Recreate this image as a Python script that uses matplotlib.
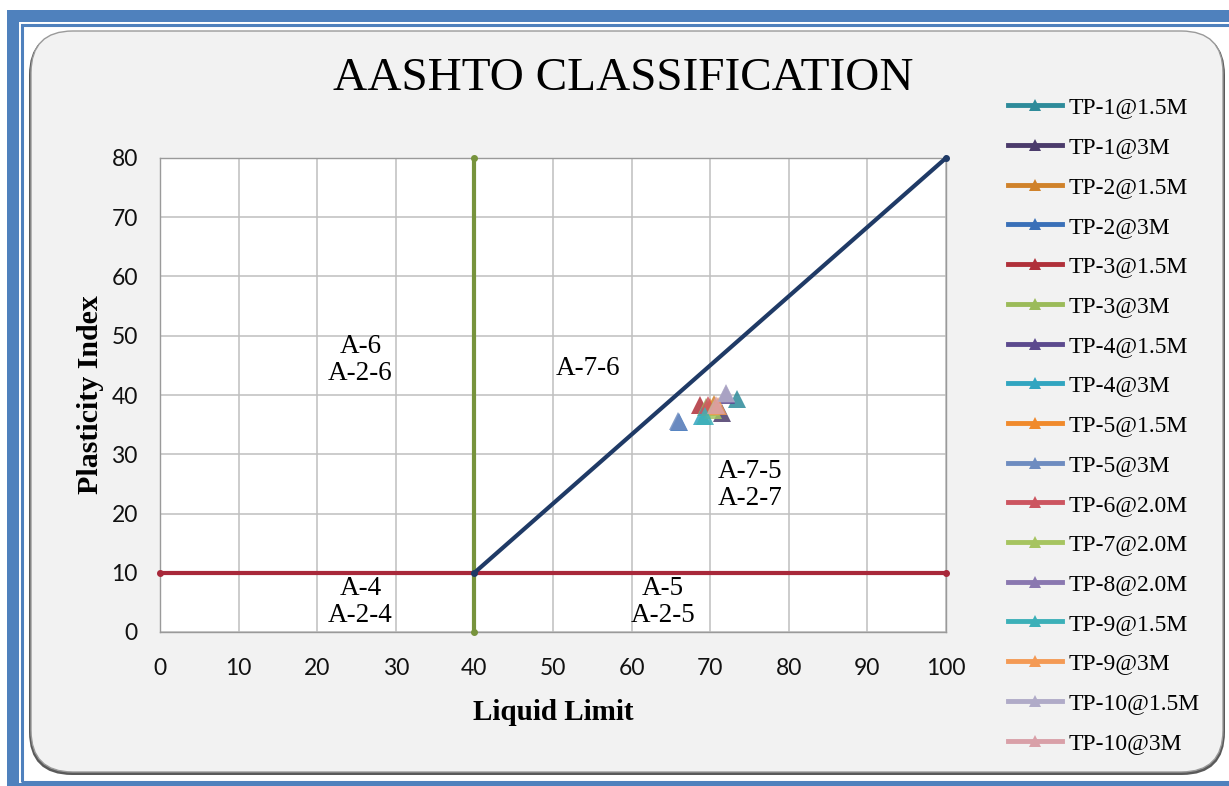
import matplotlib
matplotlib.use("Agg")
import matplotlib.pyplot as plt
from matplotlib.patches import FancyBboxPatch, Rectangle
from matplotlib.lines import Line2D

# Sample identifiers and their Atterberg limits
sample_names = ["TP-1@1.5M", "TP-1@3M", "TP-2@1.5M", "TP-2@3M", "TP-3@1.5M",
                "TP-3@3M", "TP-4@1.5M", "TP-4@3M", "TP-5@1.5M", "TP-5@3M",
                "TP-6@2.0M", "TP-7@2.0M", "TP-8@2.0M", "TP-9@1.5M", "TP-9@3M",
                "TP-10@1.5M", "TP-10@3M"]
liquid_limit = [73.4, 71.5, 70.5, 66.0, 68.7, 69.5, 72.0, 69.0, 70.0, 65.9,
                69.7, 70.3, 72.0, 69.3, 71.0, 72.0, 70.8]
plasticity_index = [39.3, 37.0, 38.5, 35.5, 38.3, 38.0, 40.0, 36.5, 38.0, 35.6,
                    38.3, 37.5, 40.2, 36.5, 38.2, 40.3, 38.3]
sample_colors = ["#2E8B9A", "#4B3B6B", "#D0822A", "#3A70B8", "#B0303A",
                 "#9BBB59", "#5C4A8E", "#31A5C0", "#F08A2C", "#6E8CC0",
                 "#CC5560", "#A6C460", "#8A78B0", "#3CB0B8", "#F49A55",
                 "#B0ABC8", "#D9A0A8"]

# Classification boundaries
ll_boundary_x = [40, 40]
ll_boundary_y = [0, 80]
pi_boundary_x = [0, 100]
pi_boundary_y = [10, 10]
aline_x = [40, 100]
aline_y = [10, 80]

# Group zone labels
zone_x = [25.5, 54.5, 75.1, 25.5, 64.0]
zone_y = [45.9, 44.5, 24.8, 5.1, 5.1]
zone_text = ["A-6\nA-2-6", "A-7-6", "A-7-5\nA-2-7", "A-4\nA-2-4", "A-5\nA-2-5"]

x_ticks = list(range(0, 101, 10))
y_ticks = list(range(0, 81, 10))

W, H = 1229, 786
fig = plt.figure(figsize=(W / 100, H / 100), dpi=100)
fig.patch.set_facecolor("white")

# Blue page frame
blue = "#4F81BD"
fig.patches.append(Rectangle((7 / W, 0), 12 / W, 1 - 10 / H, transform=fig.transFigure,
                             facecolor=blue, edgecolor="none", zorder=0))
fig.patches.append(Rectangle((7 / W, 1 - 22 / H), 1, 12 / H, transform=fig.transFigure,
                             facecolor=blue, edgecolor="none", zorder=0))
fig.patches.append(Rectangle((7 / W, 0), 1, 3 / H, transform=fig.transFigure,
                             facecolor=blue, edgecolor="none", zorder=0))
fig.patches.append(Rectangle((22 / W, 4 / H), 1, 1 - 29 / H, transform=fig.transFigure,
                             facecolor="none", edgecolor=blue, linewidth=2.2, zorder=0))

# Chart area with rounded corners and soft shadow
fig.patches.append(FancyBboxPatch((29 / W, 11 / H), 1196 / W, 743 / H,
                                  boxstyle="round,pad=0,rounding_size=0.035",
                                  transform=fig.transFigure, mutation_aspect=W / H,
                                  facecolor="#5A5A5A", edgecolor="none", zorder=0.5))
fig.patches.append(FancyBboxPatch((31 / W, 14 / H), 1192 / W, 741 / H,
                                  boxstyle="round,pad=0,rounding_size=0.034",
                                  transform=fig.transFigure, mutation_aspect=W / H,
                                  facecolor="#F2F2F2", edgecolor="#9A9A9A", linewidth=1.0,
                                  zorder=0.6))

ax = fig.add_axes([160 / W, (H - 632) / H, (946 - 160) / W, (632 - 158) / H])
ax.set_zorder(2)
ax.set_facecolor("white")
ax.set_xlim(0, 100)
ax.set_ylim(0, 80)
ax.set_xticks(x_ticks)
ax.set_yticks(y_ticks)
ax.grid(True, color="#BFBFBF", linewidth=1.1)
ax.set_axisbelow(True)
for sp in ax.spines.values():
    sp.set_color("#9A9A9A")
    sp.set_linewidth(1.0)
ax.tick_params(length=0, labelsize=16.5, colors="#111111")
ax.tick_params(axis="x", pad=19)
ax.tick_params(axis="y", pad=16)
for lab in ax.get_xticklabels() + ax.get_yticklabels():
    lab.set_fontfamily("Lato")

# Boundary lines
ax.plot(ll_boundary_x, ll_boundary_y, color="#77933C", linewidth=3.0, marker="o",
        markersize=4, clip_on=False, zorder=3)
ax.plot(pi_boundary_x, pi_boundary_y, color="#A8283A", linewidth=3.0, marker="o",
        markersize=4, clip_on=False, zorder=3)
ax.plot(aline_x, aline_y, color="#1F3A66", linewidth=3.0, marker="o",
        markersize=4, clip_on=False, zorder=4)

# Samples
handles = []
for name, ll, pi, c in zip(sample_names, liquid_limit, plasticity_index, sample_colors):
    ax.plot([ll], [pi], linestyle="none", marker="^", markersize=12.5, color=c,
            alpha=0.85, markeredgewidth=0, zorder=5)
    handles.append(Line2D([0], [0], color=c, linewidth=3.5, marker="^",
                          markersize=8, markeredgewidth=0, label=name))

for zx, zy, zt in zip(zone_x, zone_y, zone_text):
    ax.text(zx, zy, zt, ha="center", va="center", fontsize=19.5,
            family="Liberation Serif", linespacing=1.1, zorder=6)

ax.set_xlabel("Liquid Limit", fontsize=21, family="Liberation Serif",
              fontweight="bold", labelpad=14)
ax.set_ylabel("Plasticity Index", fontsize=21.5, family="Liberation Serif",
              fontweight="bold", labelpad=5)

fig.text(623 / W, 1 - 79 / H, "AASHTO CLASSIFICATION", ha="center", va="center",
         fontsize=34, family="Liberation Serif")

leg = fig.legend(handles=handles, loc="upper left", bbox_to_anchor=(1008 / W, 1 - 97 / H),
                 frameon=False, prop={"family": "Liberation Serif", "size": 17},
                 handlelength=2.3, handletextpad=0.25, labelspacing=0.77,
                 borderaxespad=0, borderpad=0)
leg.set_zorder(3)

fig.savefig("out.png", dpi=100)
